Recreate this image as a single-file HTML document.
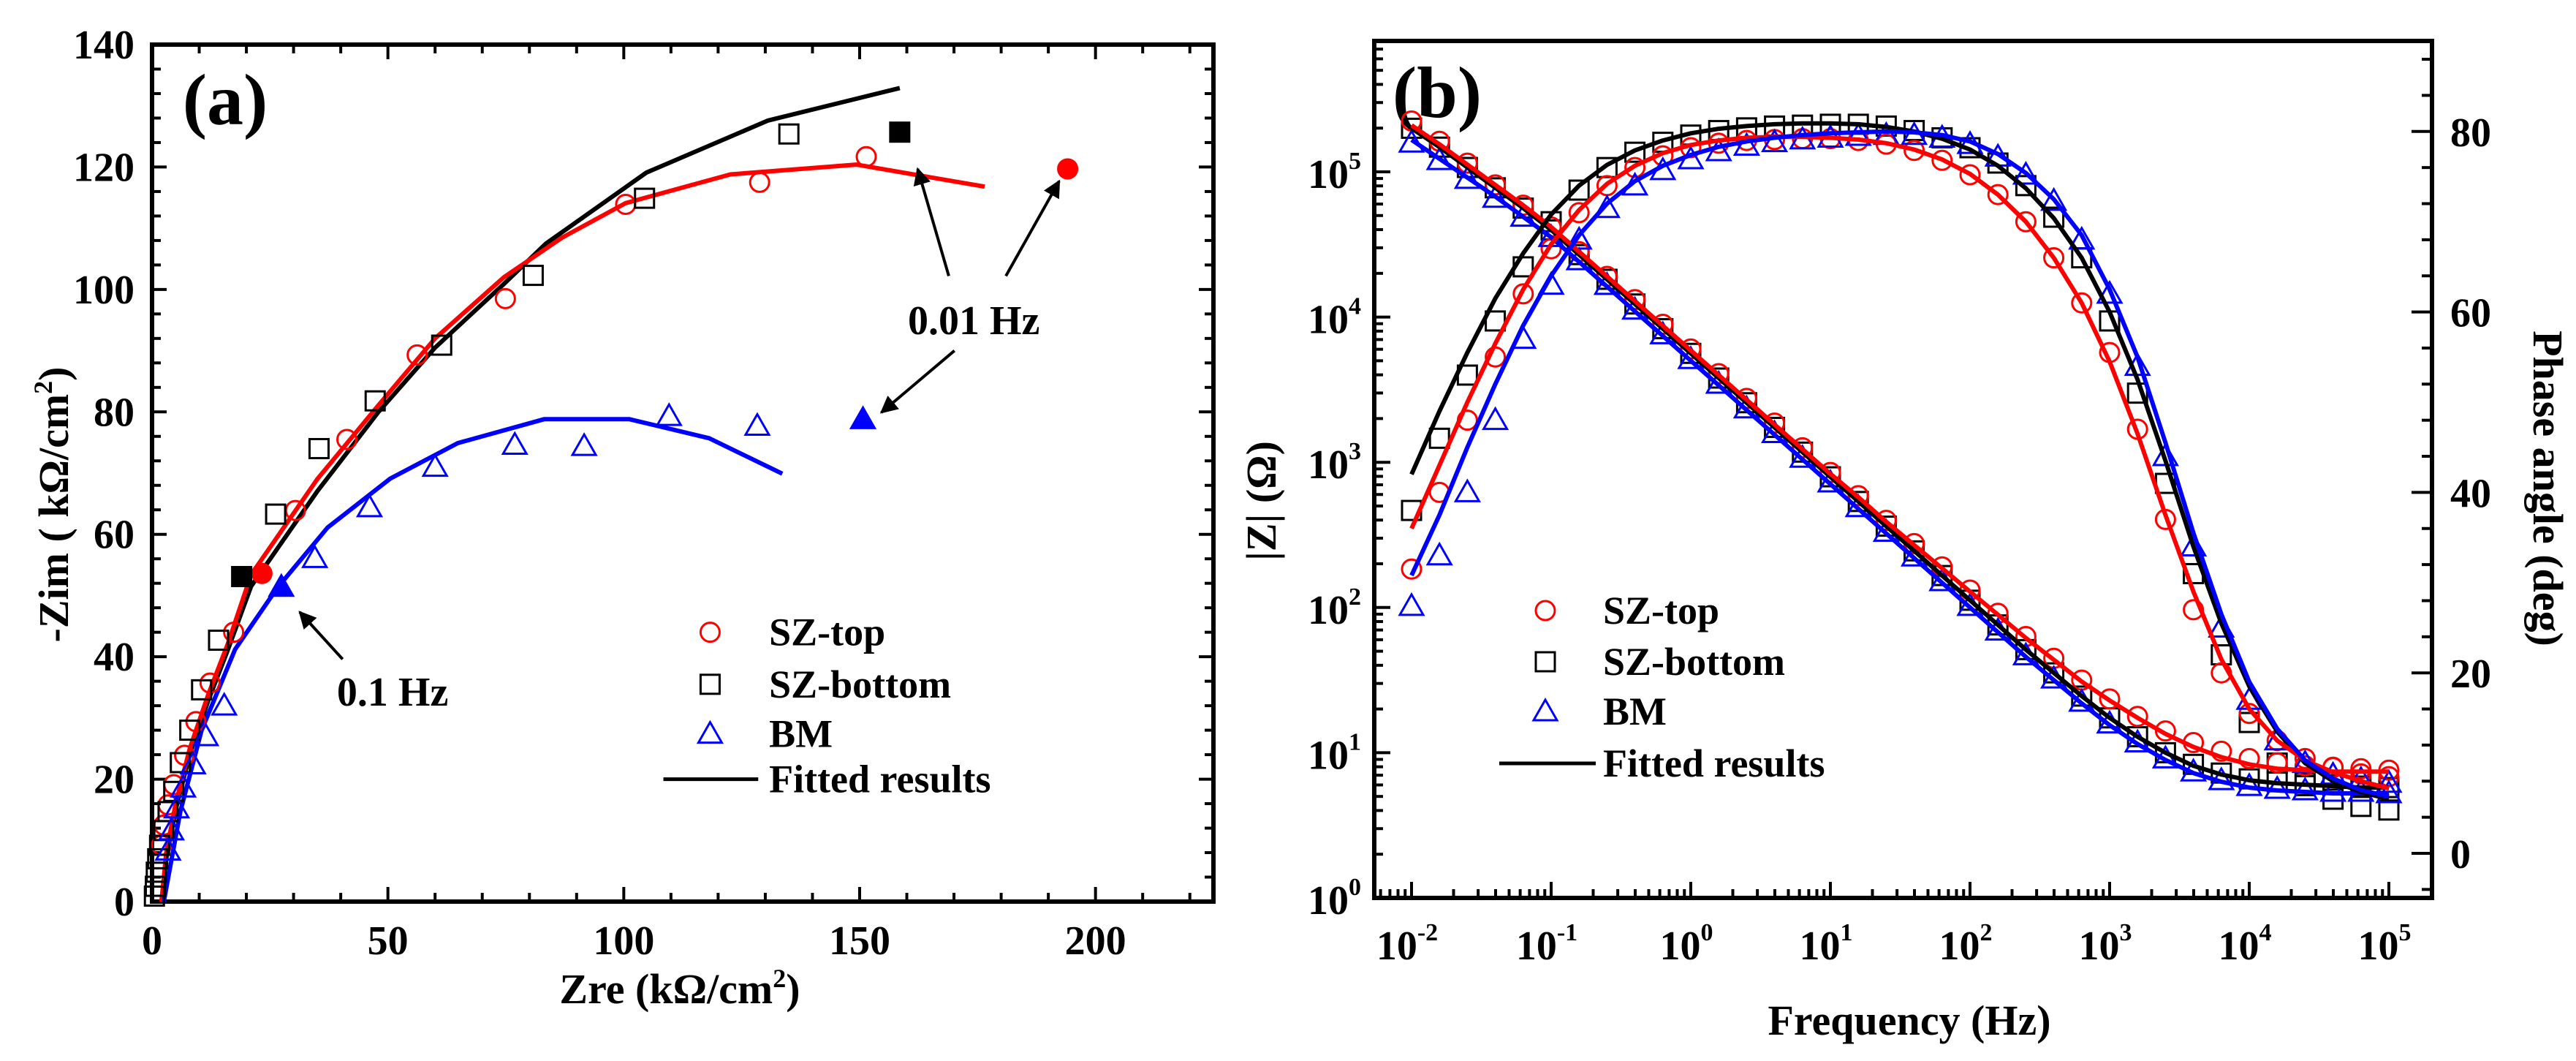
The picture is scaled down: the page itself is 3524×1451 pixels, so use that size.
<!DOCTYPE html>
<html><head><meta charset="utf-8"><style>
html,body{margin:0;padding:0;background:#fff;}
svg{display:block;font-family:"Liberation Serif",serif;font-weight:bold;}
</style></head><body>
<svg id="chart" width="3524" height="1451" viewBox="0 0 3524 1451" xmlns="http://www.w3.org/2000/svg">
<rect width="3524" height="1451" fill="#fff"/>
<g id="pa"></g>
<g id="pb"></g>
</svg>
<script>
// ---------- Panel (a) data: Nyquist (kOhm/cm2) ----------
const topZre = [151.4,128.8,100.4,74.9,56.2,41.3,30.4,17.3,12.3,9.3,6.9,4.6,3.4,2.5,2.0];
const topZim = [121.7,117.5,113.9,98.5,89.3,75.5,63.9,44.0,35.7,29.4,23.9,19.1,15.8,12.5,9.2];
const botZre = [135,104.4,80.8,61.4,47.3,35.4,26.2,14.1,10.5,8.0,6.0,4.6,3.4,2.5,1.6,1.2,0.9,0.7,0.5];
const botZim = [125.4,114.9,102.3,90.9,81.8,74.0,63.3,42.7,34.6,28.0,22.7,18.0,14.7,11.6,9.2,7.0,4.8,2.5,0.9];
const bmZre = [128.3,109.6,91.6,76.9,60.0,46.1,34.5,15.3,11.4,8.7,6.6,5.2,4.1,3.4];
const bmZim = [77.7,79.3,74.4,74.6,71.0,64.4,56.1,32.0,27.0,22.4,18.6,15.2,11.6,8.3];
const filledZre = [23.3,194.1,19.0,158.5,27.4,150.7];
const filledZim = [53.6,119.7,53.1,125.7,51.4,78.8];
const fitTopZre = [2,3,5,8,12,16,21,35,47.9,60,74.6,87,100.4,122.6,149.3,176.5];
const fitTopZim = [0,8,16,25,34,42,53.4,69,81,92,102,108.5,114.1,118.8,120.4,116.8];
const fitBotZre = [2,3,5,8,12,16,21,35,48,60,74.6,83.5,104.8,130.6,158.5];
const fitBotZim = [0,7,15,24,33,41,51.5,67,80,90.5,100.9,107.5,119.1,127.6,132.9];
const fitBmZre = [2.5,6,10.5,17.6,26.5,37.2,50.5,64.8,83.1,101.2,118.1,133.6];
const fitBmZim = [0,14.7,28,41.2,51.2,61.1,69.1,74.9,78.8,78.8,75.7,69.9];
const xTicksA = [0,50,100,150,200];
const yTicksA = [0,20,40,60,80,100,120,140];

// ---------- Panel (b) data: Bode ----------
const logF = [-2,-1.8,-1.6,-1.4,-1.2,-1,-0.8,-0.6,-0.4,-0.2,0,0.2,0.4,0.6,0.8,1,1.2,1.4,1.6,1.8,2,2.2,2.4,2.6,2.8,3,3.2,3.4,3.6,3.8,4,4.2,4.4,4.6,4.8,5];
const topLogZ = [5.35,5.21,5.06,4.91,4.77,4.62,4.45,4.28,4.12,3.95,3.78,3.61,3.44,3.27,3.10,2.93,2.77,2.60,2.44,2.28,2.12,1.96,1.80,1.65,1.50,1.37,1.25,1.15,1.07,1.01,0.96,0.93,0.91,0.90,0.89,0.88];
const botLogZ = [5.30,5.17,5.03,4.89,4.75,4.60,4.43,4.26,4.09,3.92,3.75,3.58,3.41,3.24,3.07,2.90,2.73,2.56,2.39,2.22,2.05,1.88,1.71,1.55,1.39,1.24,1.11,1.00,0.92,0.86,0.82,0.80,0.79,0.78,0.77,0.76];
const bmLogZ = [5.20,5.08,4.95,4.82,4.69,4.55,4.39,4.22,4.05,3.88,3.71,3.54,3.37,3.20,3.03,2.86,2.69,2.52,2.35,2.18,2.01,1.84,1.67,1.51,1.35,1.20,1.07,0.96,0.87,0.81,0.77,0.75,0.74,0.73,0.73,0.72];
const topPhase = [31.5,40,48,55,62,67,71,74,76,77.3,78.2,78.7,79,79.1,79.2,79.2,79.0,78.6,77.9,76.8,75.2,73,70,66,61,55.5,47,37,27,20,15.5,12.5,10.5,9.5,8.8,8.5];
const botPhase = [38,46,53,59,65,70,73.5,76,77.7,78.8,79.6,80.1,80.4,80.6,80.7,80.8,80.8,80.6,80.1,79.3,78.2,76.5,74,70.5,66,59,51,41,31,22,14.5,10,7.5,6,5.2,4.8];
const bmPhase = [27.4,33,40,48,57,63,68,71.5,74,75.7,76.9,77.8,78.4,78.8,79.1,79.3,79.5,79.6,79.6,79.3,78.6,77.2,75.2,72.3,68,62,54,44,34,25,17,12.5,10,8.7,8.2,7.8];
const fitTopPhase = [36,43,50,56.5,62.5,67.5,71.3,74.2,76.2,77.6,78.5,79,79.3,79.4,79.4,79.3,79.1,78.7,78,76.9,75.3,73,70,66,61,54.5,46.5,37.5,29,21.5,16,12.5,10.3,9,8,7.2];
const fitBotPhase = [42,49,55.5,61.5,66.5,70.8,74,76.3,77.9,79,79.8,80.3,80.6,80.8,80.9,80.9,80.8,80.5,80,79.2,78,76.2,73.7,70.4,66,60,52.5,43.5,34,25.5,18.5,13.5,10,8,6.8,6];
const fitBmPhase = [30.8,37.5,45,52,58.5,64,68.5,72,74.5,76.2,77.4,78.3,78.9,79.3,79.6,79.8,79.9,80,79.9,79.6,78.9,77.5,75.4,72.5,68.5,62.5,55,45.5,35.5,26.5,19,13.8,10.3,8.3,7,6.3];
const fitTopLogZ = [5.32,5.19,5.05,4.91,4.77,4.62,4.45,4.28,4.11,3.94,3.77,3.60,3.43,3.26,3.09,2.92,2.76,2.59,2.43,2.27,2.11,1.95,1.79,1.64,1.49,1.36,1.24,1.13,1.04,0.97,0.92,0.89,0.88,0.87,0.87,0.87];
const fitBotLogZ = [5.30,5.17,5.03,4.89,4.75,4.60,4.43,4.26,4.09,3.92,3.75,3.58,3.41,3.24,3.07,2.90,2.73,2.56,2.39,2.22,2.05,1.88,1.71,1.55,1.39,1.24,1.11,1.00,0.91,0.85,0.81,0.79,0.78,0.77,0.76,0.76];
const fitBmLogZ = [5.22,5.09,4.96,4.83,4.69,4.55,4.38,4.21,4.04,3.87,3.70,3.53,3.36,3.19,3.02,2.85,2.68,2.51,2.34,2.17,2.00,1.83,1.66,1.50,1.34,1.19,1.06,0.95,0.86,0.80,0.76,0.74,0.73,0.72,0.72,0.72];
const xDecadesB = [-2,-1,0,1,2,3,4,5];
const yDecadesB = [0,1,2,3,4,5];
const phaseTicks = [0,20,40,60,80];

const NS = "http://www.w3.org/2000/svg";
function el(parent, tag, attrs, text){
  const e = document.createElementNS(NS, tag);
  for (const k in attrs) e.setAttribute(k, attrs[k]);
  if (text !== undefined) e.textContent = text;
  parent.appendChild(e);
  return e;
}
const RED="#ff0000", BLK="#000000", BLU="#0000ff";

function marker(g, type, x, y, color, filled, name){
  let m;
  if (type === "circle") {
    m = el(g, "circle", {cx:x, cy:y, r:13, fill: filled?color:"none", stroke:color, "stroke-width":3});
  } else if (type === "square") {
    m = el(g, "rect", {x:x-13, y:y-13, width:26, height:26, fill: filled?color:"none", stroke:color, "stroke-width":3});
  } else {
    m = el(g, "polygon", {points:`${x},${y-16} ${x-16},${y+12} ${x+16},${y+12}`, fill: filled?color:"none", stroke:color, "stroke-width":3});
  }
  
  
  return m;
}
function polyline(g, xs, ys, sx, sy, color, name){
  const pts = xs.map((v,i)=> sx(v).toFixed(1)+","+sy(ys[i]).toFixed(1)).join(" ");
  const p = el(g, "polyline", {points:pts, fill:"none", stroke:color, "stroke-width":6, "stroke-linejoin":"round"});
  
  
}

// ================= Panel (a) =================
(function(){
  const g = document.getElementById("pa");
  const L=208, R=1660, T=61, B=1233;
  const sx = v => L + v*(R-L)/225;
  const sy = v => B - v*(B-T)/140;
  const frame = el(g,"rect",{x:L,y:T,width:R-L,height:B-T,fill:"none",stroke:"#000","stroke-width":6});
  
  
  for (let v=0; v<=225; v+=10){
    const major = v%50===0;
    el(g,"line",{x1:sx(v),x2:sx(v),y1:B,y2:B-(major?20:12),stroke:"#000","stroke-width":4});
    el(g,"line",{x1:sx(v),x2:sx(v),y1:T,y2:T+(major?20:12),stroke:"#000","stroke-width":4});
  }
  for (let v=0; v<=140; v+=4){
    const major = v%20===0;
    el(g,"line",{x1:L,x2:L+(major?20:12),y1:sy(v),y2:sy(v),stroke:"#000","stroke-width":4});
    el(g,"line",{x1:R,x2:R-(major?20:12),y1:sy(v),y2:sy(v),stroke:"#000","stroke-width":4});
  }
  xTicksA.forEach(v=>{
    const t = el(g,"text",{x:sx(v),y:1305,"text-anchor":"middle","font-size":56},String(v));
    
    
  });
  yTicksA.forEach(v=>{
    const t = el(g,"text",{x:184,y:sy(v)+19,"text-anchor":"end","font-size":56},String(v));
    
    
  });
  const xt = el(g,"text",{x:930,y:1372,"text-anchor":"middle","font-size":58});
  xt.innerHTML = 'Zre (kΩ/cm<tspan dy="-22" font-size="36">2</tspan><tspan dy="22">)</tspan>';
  
  
  const yt = el(g,"text",{x:0,y:0,"text-anchor":"middle","font-size":58,transform:"translate(93,690) rotate(-90)"});
  yt.innerHTML = '-Zim ( kΩ/cm<tspan dy="-22" font-size="36">2</tspan><tspan dy="22">)</tspan>';
  
  
  const lab = el(g,"text",{x:308,y:170,"text-anchor":"middle","font-size":100},"(a)");
  
  

  polyline(g, fitBotZre, fitBotZim, sx, sy, BLK, 'fit-line-sz-bottom');
  polyline(g, fitTopZre, fitTopZim, sx, sy, RED, 'fit-line-sz-top');
  polyline(g, fitBmZre, fitBmZim, sx, sy, BLU, 'fit-line-bm');
  topZre.forEach((v,i)=>marker(g,"circle",sx(v),sy(topZim[i]),RED,false,'point-sz-top'));
  botZre.forEach((v,i)=>marker(g,"square",sx(v),sy(botZim[i]),BLK,false,'point-sz-bottom'));
  bmZre.forEach((v,i)=>marker(g,"tri",sx(v),sy(bmZim[i]),BLU,false,'point-bm'));
  const ftypes=["circle","circle","square","square","tri","tri"], fcols=[RED,RED,BLK,BLK,BLU,BLU];
  filledZre.forEach((v,i)=>marker(g,ftypes[i],sx(v),sy(filledZim[i]),fcols[i],true,'marked-frequency-point'));

  el(g,"defs",{}).innerHTML='<marker id="ah" viewBox="0 0 10 10" refX="9" refY="5" markerWidth="6" markerHeight="6" orient="auto"><path d="M0,0 L10,5 L0,10 z" fill="#000"/></marker>';
  const arrows=[[168.9,102.2,162.3,119.7],[181,102.2,192.3,117.7],[170.1,90,154.6,79.9],[40.4,39.6,31.3,47.3]];
  arrows.forEach(a=>{
    const l = el(g,"line",{x1:sx(a[0]),y1:sy(a[1]),x2:sx(a[2]),y2:sy(a[3]),stroke:"#000","stroke-width":4,"marker-end":"url(#ah)"});
    
    
  });
  const a1 = el(g,"text",{x:sx(174.2),y:sy(95.1)+20,"text-anchor":"middle","font-size":56},"0.01 Hz");
  
  
  const a2 = el(g,"text",{x:sx(51),y:sy(34.4)+20,"text-anchor":"middle","font-size":56},"0.1 Hz");
  
  

  const lg = el(g,"g",{});
  
  
  const names=["SZ-top","SZ-bottom","BM"], types=["circle","square","tri"], cols=[RED,BLK,BLU], ly=[44,35.5,27.4];
  names.forEach((n,i)=>{
    marker(lg,types[i],sx(118.3),sy(ly[i]),cols[i],false,'legend-marker');
    const t = el(lg,"text",{x:sx(130.8),y:sy(ly[i])+18,"font-size":54},n);
    
    
  });
  el(lg,"line",{x1:sx(108.4),x2:sx(128.5),y1:sy(20),y2:sy(20),stroke:"#000","stroke-width":5});
  const ft = el(lg,"text",{x:sx(130.8),y:sy(20)+18,"font-size":54},"Fitted results");
  
  
})();

// ================= Panel (b) =================
(function(){
  const g = document.getElementById("pb");
  const L=1880, R=3327, T=56, B=1228;
  const x0=1931, dec=191;
  const sx = v => x0 + (v+2)*dec;
  const syZ = v => 1228 - v*198.6;
  const syP = v => 1167 - v*12.34;
  const frame = el(g,"rect",{x:L,y:T,width:R-L,height:B-T,fill:"none",stroke:"#000","stroke-width":6});
  
  
  for (let d=-3; d<=5; d++){
    for (let k=1;k<=9;k++){
      const lv = d+Math.log10(k);
      const x = sx(lv);
      if (x<L+2||x>R-2) continue;
      const len = k===1?22:12;
      el(g,"line",{x1:x,x2:x,y1:B,y2:B-len,stroke:"#000","stroke-width":4});
    }
  }
  for (let d=0; d<=5; d++){
    for (let k=1;k<=9;k++){
      const y = syZ(d+Math.log10(k));
      if (y<T+2) continue;
      const len = k===1?22:12;
      el(g,"line",{x1:L,x2:L+len,y1:y,y2:y,stroke:"#000","stroke-width":4});
    }
  }
  for (let v=-4; v<=88; v+=4){
    const major = v%20===0;
    el(g,"line",{x1:R,x2:R-(major?28:14),y1:syP(v),y2:syP(v),stroke:"#000","stroke-width":4});
  }
  xDecadesB.forEach(d=>{
    const t = el(g,"text",{x:sx(d)-6,y:1312,"text-anchor":"middle","font-size":56});
    t.innerHTML = '10<tspan dy="-26" font-size="34">'+d+'</tspan>';
    
    
  });
  yDecadesB.forEach(d=>{
    const t = el(g,"text",{x:1862,y:syZ(d)+22,"text-anchor":"end","font-size":56});
    t.innerHTML = '10<tspan dy="-26" font-size="34">'+d+'</tspan>';
    
    
  });
  phaseTicks.forEach(v=>{
    const t = el(g,"text",{x:3352,y:syP(v)+20,"font-size":56},String(v));
    
    
  });
  const xt = el(g,"text",{x:2612,y:1415,"text-anchor":"middle","font-size":58},"Frequency (Hz)");
  
  
  const yl = el(g,"text",{x:0,y:0,"text-anchor":"middle","font-size":58,transform:"translate(1745,685) rotate(-90)"},"|Z| (Ω)");
  
  
  const yr = el(g,"text",{x:0,y:0,"text-anchor":"middle","font-size":58,transform:"translate(3466,668) rotate(90)"},"Phase angle (deg)");
  
  
  const lab = el(g,"text",{x:1966,y:160,"text-anchor":"middle","font-size":100},"(b)");
  
  

  logF.forEach((f,i)=>{
    marker(g,"square",sx(f),syZ(botLogZ[i]),BLK,false,'impedance-point-sz-bottom');
    marker(g,"square",sx(f),syP(botPhase[i]),BLK,false,'phase-point-sz-bottom');
    marker(g,"circle",sx(f),syZ(topLogZ[i]),RED,false,'impedance-point-sz-top');
    marker(g,"circle",sx(f),syP(topPhase[i]),RED,false,'phase-point-sz-top');
    marker(g,"tri",sx(f),syZ(bmLogZ[i]),BLU,false,'impedance-point-bm');
    marker(g,"tri",sx(f),syP(bmPhase[i]),BLU,false,'phase-point-bm');
  });
  polyline(g, logF, fitBotLogZ, sx, syZ, BLK, 'fit-impedance-sz-bottom');
  polyline(g, logF, fitTopLogZ, sx, syZ, RED, 'fit-impedance-sz-top');
  polyline(g, logF, fitBmLogZ, sx, syZ, BLU, 'fit-impedance-bm');
  polyline(g, logF, fitBotPhase, sx, syP, BLK, 'fit-phase-sz-bottom');
  polyline(g, logF, fitTopPhase, sx, syP, RED, 'fit-phase-sz-top');
  polyline(g, logF, fitBmPhase, sx, syP, BLU, 'fit-phase-bm');

  const lg = el(g,"g",{});
  
  
  const names=["SZ-top","SZ-bottom","BM"], types=["circle","square","tri"], cols=[RED,BLK,BLU], ly=[835,905,973];
  names.forEach((n,i)=>{
    marker(lg,types[i],2114,ly[i],cols[i],false,'legend-marker');
    const t = el(lg,"text",{x:2193,y:ly[i]+18,"font-size":54},n);
    
    
  });
  el(lg,"line",{x1:2051,x2:2183,y1:1044,y2:1044,stroke:"#000","stroke-width":5});
  const ft = el(lg,"text",{x:2193,y:1062,"font-size":54},"Fitted results");
  
  
})();
</script>
</body></html>
